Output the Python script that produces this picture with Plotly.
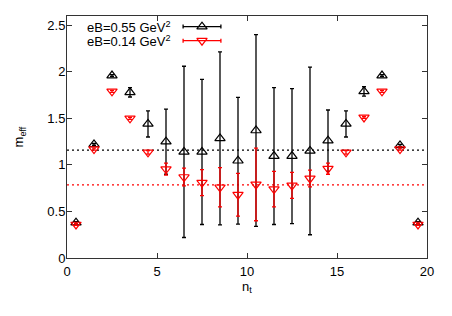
import plotly.graph_objects as go

nt = [0.5, 1.5, 2.5, 3.5, 4.5, 5.5, 6.5, 7.5, 8.5, 9.5,
      10.5, 11.5, 12.5, 13.5, 14.5, 15.5, 16.5, 17.5, 18.5, 19.5]

m_055 = [0.38, 1.22, 1.96, 1.78, 1.44, 1.25, 1.14, 1.14, 1.285, 1.045,
         1.37, 1.095, 1.095, 1.15, 1.26, 1.44, 1.79, 1.96, 1.21, 0.38]
err_055 = [0.01, 0.01, 0.01, 0.05, 0.14, 0.35, 0.92, 0.78, 0.93, 0.68,
           1.03, 0.735, 0.725, 0.90, 0.33, 0.14, 0.05, 0.01, 0.01, 0.01]

m_014 = [0.36, 1.17, 1.79, 1.50, 1.135, 0.955, 0.87, 0.81, 0.76, 0.68,
         0.79, 0.74, 0.78, 0.855, 0.96, 1.135, 1.51, 1.79, 1.17, 0.36]
err_014 = [0.01, 0.01, 0.01, 0.01, 0.02, 0.065, 0.095, 0.14, 0.21, 0.23,
           0.39, 0.19, 0.14, 0.09, 0.06, 0.02, 0.01, 0.01, 0.01, 0.01]

fit_055 = 1.16
fit_014 = 0.785

labels = ["eB=0.55 GeV<sup>2</sup>", "eB=0.14 GeV<sup>2</sup>"]
colors = ["#000000", "#ff0000"]

x_ticks = [0, 5, 10, 15, 20]
y_ticks = [0, 0.5, 1, 1.5, 2, 2.5]

font = "Liberation Sans, Arial, sans-serif"

fig = go.Figure()

# fit lines
for val, col in [(fit_055, colors[0]), (fit_014, colors[1])]:
    fig.add_trace(go.Scatter(
        x=[0, 20], y=[val, val], mode="lines",
        line=dict(color=col, width=1.3, dash="2px,3px"),
        showlegend=False, hoverinfo="skip"))

# data
fig.add_trace(go.Scatter(
    x=nt, y=m_055, mode="markers",
    marker=dict(symbol="triangle-up-open", size=9, color=colors[0],
                line=dict(width=1.2, color=colors[0])),
    error_y=dict(type="data", array=err_055, color=colors[0], thickness=1.3, width=2),
    showlegend=False))
fig.add_trace(go.Scatter(
    x=nt, y=m_014, mode="markers",
    marker=dict(symbol="triangle-down-open", size=9, color=colors[1],
                line=dict(width=1.2, color=colors[1])),
    error_y=dict(type="data", array=err_014, color=colors[1], thickness=1.3, width=2),
    showlegend=False))

# gnuplot-style key (sample to the right of the text)
key_x = 7.5
key_half = 1.05
key_y = [2.486, 2.335]
fig.add_trace(go.Scatter(
    x=[key_x], y=[key_y[0]], mode="markers",
    marker=dict(symbol="triangle-up-open", size=9, color=colors[0],
                line=dict(width=1.2, color=colors[0])),
    error_x=dict(type="constant", value=key_half, color=colors[0], thickness=1.3, width=2),
    showlegend=False, hoverinfo="skip"))
fig.add_trace(go.Scatter(
    x=[key_x], y=[key_y[1]], mode="markers",
    marker=dict(symbol="triangle-down-open", size=9, color=colors[1],
                line=dict(width=1.2, color=colors[1])),
    error_x=dict(type="constant", value=key_half, color=colors[1], thickness=1.3, width=2),
    showlegend=False, hoverinfo="skip"))
for lab, yy in zip(labels, key_y):
    fig.add_annotation(x=5.85, y=yy, text=lab, showarrow=False,
                       xanchor="right", yanchor="middle",
                       font=dict(family=font, size=13, color="#000"))

# page body has an 8px default margin, so the figure is offset by 8px
fig.update_layout(
    width=444, height=308,
    margin=dict(l=59, r=25, t=8, b=58),
    plot_bgcolor="white", paper_bgcolor="white",
    font=dict(family=font, size=12, color="#000"),
)
fig.update_xaxes(
    range=[0, 20], tickvals=x_ticks, ticks="inside", ticklen=5, tickcolor="#333",
    showline=True, linecolor="#333", linewidth=1, mirror="ticks",
    showgrid=False, zeroline=False, automargin=False, ticklabelstandoff=1,
    title=dict(text="n<sub>t</sub>", font=dict(size=13), standoff=0),
    tickfont=dict(size=13))
fig.update_yaxes(
    range=[0, 2.6], tickvals=y_ticks, ticks="inside", ticklen=5, tickcolor="#333",
    showline=True, linecolor="#333", linewidth=1, mirror="ticks",
    showgrid=False, zeroline=False, automargin=False, ticklabelstandoff=-2,
    title=dict(text="m<sub>eff</sub>", font=dict(size=13), standoff=20),
    tickfont=dict(size=13))

fig.write_html("out.html")
